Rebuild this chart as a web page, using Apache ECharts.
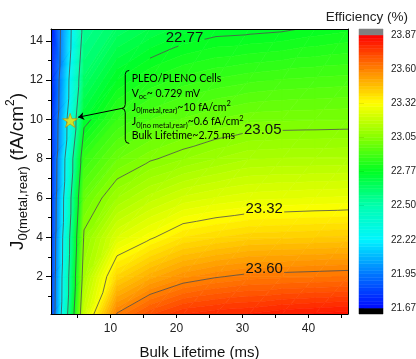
<!DOCTYPE html>
<html>
<head>
<meta charset="utf-8">
<script src="https://cdn.jsdelivr.net/npm/echarts@6/dist/echarts.min.js"></script>
<style>
  html, body { margin: 0; padding: 0; background: #fff; }
  #main { width: 416px; height: 359px; }
</style>
</head>
<body>
<div id="main"></div>
<script>
// grid of the map: bulk lifetime (ms) along x, J0(metal,rear) (fA/cm2) along y
const lifetimes = [1, 6, 11, 16, 21, 26, 31, 36, 41, 46];
const j0Values = [0.1, 2, 4, 6, 8, 10, 12, 14.6];
// efficiency (%), one row for each J0 value
const efficiency = [
    [21.78, 23.20, 23.60, 23.70, 23.76, 23.78, 23.79, 23.81, 23.82, 23.83],
    [21.77, 23.12, 23.41, 23.50, 23.56, 23.59, 23.61, 23.615, 23.62, 23.625],
    [21.76, 23.06, 23.24, 23.31, 23.375, 23.40, 23.42, 23.425, 23.43, 23.436],
    [21.75, 22.98, 23.10, 23.168, 23.217, 23.24, 23.256, 23.262, 23.267, 23.27],
    [21.74, 22.88, 22.986, 23.037, 23.07, 23.10, 23.125, 23.13, 23.131, 23.133],
    [21.73, 22.74, 22.88, 22.934, 22.966, 22.99, 23.008, 23.012, 23.014, 23.016],
    [21.72, 22.64, 22.77, 22.83, 22.864, 22.885, 22.90, 22.91, 22.915, 22.92],
    [21.70, 22.55, 22.64, 22.69, 22.73, 22.75, 22.755, 22.762, 22.778, 22.79]
];

const xLabelValues = [10, 20, 30, 40];
const xTickValues = [5, 10, 15, 20, 25, 30, 35, 40, 45];
const yLabelValues = [2, 4, 6, 8, 10, 12, 14];
const yMinorValues = [1, 3, 5, 7, 9, 11, 13];

// colour scale ticks (also the contour line levels)
const scaleTicks = [21.67, 21.945, 22.22, 22.495, 22.77, 23.045, 23.32, 23.595, 23.87];
const scaleTickLabels = ['21.67', '21.95', '22.22', '22.50', '22.77', '23.05', '23.32', '23.60', '23.87'];

const lineLabels = ['22.77', '23.05', '23.32', '23.60'];
const lineLabelAt = [[21.22, 14.14], [33.08, 9.46], [33.3, 5.44], [33.3, 2.39]];

const starPoint = [3.9, 9.95];
const notePoint = [11.72, 10.56];
const arrowEnd = [5.1, 10.11];
const noteLines = [
    '{a|PLEO/PLENO Cells}',
    '{a|V}{s|oc}{a|~ 0.729 mV}',
    '{a|J}{s|0(metal,rear)}{a|~10 fA/cm}{p|2}',
    '{a|J}{s|0(no metal,rear)}{a|~0.6 fA/cm}{p|2}',
    '{a|Bulk Lifetime~2.75 ms}'
];

// rainbow palette
const paletteStops = [
    [21.67, [0, 10, 255]],
    [21.945, [0, 120, 255]],
    [22.22, [0, 245, 255]],
    [22.495, [0, 255, 175]],
    [22.77, [0, 255, 35]],
    [23.045, [135, 255, 0]],
    [23.32, [255, 255, 0]],
    [23.595, [255, 130, 0]],
    [23.87, [255, 0, 0]]
];

function paletteColor(v) {
    if (v <= paletteStops[0][0]) return 'rgb(0,10,255)';
    for (let k = 1; k < paletteStops.length; k++) {
        const a = paletteStops[k - 1], b = paletteStops[k];
        if (v <= b[0]) {
            const t = (v - a[0]) / (b[0] - a[0]);
            const c = a[1].map((x, n) => Math.round(x + (b[1][n] - x) * t));
            return 'rgb(' + c.join(',') + ')';
        }
    }
    return 'rgb(255,0,0)';
}

// fill levels: 10 per major step
const fillLevels = [];
for (let m = 0; m < scaleTicks.length - 1; m++) {
    for (let s = 0; s < 10; s++) {
        fillLevels.push(scaleTicks[m] + (scaleTicks[m + 1] - scaleTicks[m]) * s / 10);
    }
}
fillLevels.push(scaleTicks[scaleTicks.length - 1]);

const bounds = [-Infinity].concat(fillLevels, [Infinity]);
const bandColors = [];
for (let b = 0; b < bounds.length - 1; b++) {
    if (b === 0) bandColors.push('#000000');
    else if (b === bounds.length - 2) bandColors.push('#808080');
    else bandColors.push(paletteColor((bounds[b] + bounds[b + 1]) / 2));
}

const cells = [];
for (let j = 0; j < j0Values.length - 1; j++) {
    for (let i = 0; i < lifetimes.length - 1; i++) cells.push([i, j]);
}

function corner(api, i, j) {
    const p = api.coord([lifetimes[i], j0Values[j]]);
    return {x: p[0], y: p[1], v: efficiency[j][i]};
}

function cellTriangles(api, i, j) {
    const a = corner(api, i, j), b = corner(api, i + 1, j);
    const c = corner(api, i + 1, j + 1), d = corner(api, i, j + 1);
    return [[a, b, c], [a, c, d]];
}

function clipPoly(poly, level, above) {
    const out = [];
    for (let k = 0; k < poly.length; k++) {
        const cur = poly[k], prev = poly[(k + poly.length - 1) % poly.length];
        const cin = above ? cur.v >= level : cur.v <= level;
        const pin = above ? prev.v >= level : prev.v <= level;
        if (cin !== pin) {
            const t = (level - prev.v) / (cur.v - prev.v);
            out.push({x: prev.x + t * (cur.x - prev.x), y: prev.y + t * (cur.y - prev.y), v: level});
        }
        if (cin) out.push(cur);
    }
    return out;
}

function renderFill(params, api) {
    const cell = cells[params.dataIndex];
    const children = [];
    cellTriangles(api, cell[0], cell[1]).forEach(function (tri) {
        const vs = tri.map(p => p.v);
        const lo = Math.min.apply(null, vs), hi = Math.max.apply(null, vs);
        for (let b = 0; b < bounds.length - 1; b++) {
            if (bounds[b + 1] < lo || bounds[b] > hi) continue;
            let poly = tri;
            if (isFinite(bounds[b])) poly = clipPoly(poly, bounds[b], true);
            if (poly.length >= 3 && isFinite(bounds[b + 1])) poly = clipPoly(poly, bounds[b + 1], false);
            if (poly.length < 3) continue;
            children.push({
                type: 'polygon',
                shape: {points: poly.map(p => [p.x, p.y])},
                style: {fill: bandColors[b], stroke: bandColors[b], lineWidth: 0.6}
            });
        }
    });
    return {type: 'group', children: children};
}

function labelBoxes(api) {
    return lineLabelAt.map(function (pos) {
        const p = api.coord(pos);
        return {x0: p[0] - 20, x1: p[0] + 20, y0: p[1] - 8, y1: p[1] + 8};
    });
}

function cutSegment(p, q, box) {
    let t0 = 0, t1 = 1;
    const dx = q[0] - p[0], dy = q[1] - p[1];
    const pp = [-dx, dx, -dy, dy];
    const qq = [p[0] - box.x0, box.x1 - p[0], p[1] - box.y0, box.y1 - p[1]];
    for (let k = 0; k < 4; k++) {
        if (pp[k] === 0) {
            if (qq[k] < 0) return [[p, q]];
        } else {
            const r = qq[k] / pp[k];
            if (pp[k] < 0) {
                if (r > t1) return [[p, q]];
                if (r > t0) t0 = r;
            } else {
                if (r < t0) return [[p, q]];
                if (r < t1) t1 = r;
            }
        }
    }
    const at = t => [p[0] + dx * t, p[1] + dy * t];
    const res = [];
    if (t0 > 0) res.push([p, at(t0)]);
    if (t1 < 1) res.push([at(t1), q]);
    return res;
}

function renderLines(params, api) {
    const cell = cells[params.dataIndex];
    const boxes = labelBoxes(api);
    const children = [];
    cellTriangles(api, cell[0], cell[1]).forEach(function (tri) {
        scaleTicks.forEach(function (level) {
            const pts = [];
            for (let k = 0; k < 3; k++) {
                const a = tri[k], b = tri[(k + 1) % 3];
                if ((a.v - level) * (b.v - level) < 0) {
                    const t = (level - a.v) / (b.v - a.v);
                    pts.push([a.x + t * (b.x - a.x), a.y + t * (b.y - a.y)]);
                }
            }
            if (pts.length !== 2) return;
            let segs = [[pts[0], pts[1]]];
            boxes.forEach(function (box) {
                let next = [];
                segs.forEach(s => { next = next.concat(cutSegment(s[0], s[1], box)); });
                segs = next;
            });
            segs.forEach(function (s) {
                children.push({
                    type: 'line',
                    shape: {x1: s[0][0], y1: s[0][1], x2: s[1][0], y2: s[1][1]},
                    style: {stroke: '#4d4d4d', lineWidth: 0.8}
                });
            });
        });
    });
    return {type: 'group', children: children};
}

function renderLabel(params, api) {
    const p = api.coord(lineLabelAt[params.dataIndex]);
    return {
        type: 'text', x: p[0], y: p[1],
        style: {
            text: lineLabels[params.dataIndex], fill: '#111',
            fontSize: 15, fontFamily: 'Liberation Sans',
            align: 'center', verticalAlign: 'middle'
        }
    };
}

function renderNote(params, api) {
    const p = api.coord(notePoint);
    const ink = {stroke: '#000', lineWidth: 1, fill: null};
    const children = [
        {type: 'bezierCurve', shape: {x1: 7.5, y1: -38, cpx1: 3.5, cpy1: -38, x2: 3.5, y2: -34}, style: ink},
        {type: 'line', shape: {x1: 3.5, y1: -34, x2: 3.5, y2: -4}, style: ink},
        {type: 'bezierCurve', shape: {x1: 3.5, y1: -4, cpx1: 3.5, cpy1: 0, x2: 0, y2: 0}, style: ink},
        {type: 'bezierCurve', shape: {x1: 0, y1: 0, cpx1: 3.5, cpy1: 0, x2: 3.5, y2: 4}, style: ink},
        {type: 'line', shape: {x1: 3.5, y1: 4, x2: 3.5, y2: 31}, style: ink},
        {type: 'bezierCurve', shape: {x1: 3.5, y1: 31, cpx1: 3.5, cpy1: 35, x2: 7.5, y2: 35}, style: ink}
    ];
    noteLines.forEach(function (line, k) {
        children.push({
            type: 'text', x: 10, y: -29.5 + k * 14.3,
            style: {
                text: line, fill: '#000', align: 'left', verticalAlign: 'middle',
                rich: {
                    a: {fontSize: 10.5, fontFamily: 'Lato', lineHeight: 15, color: '#000'},
                    s: {fontSize: 7.5, fontFamily: 'Lato', verticalAlign: 'bottom', color: '#000'},
                    p: {fontSize: 7.5, fontFamily: 'Lato', verticalAlign: 'top', color: '#000'}
                }
            }
        });
    });
    return {type: 'group', x: p[0], y: p[1], children: children};
}

const scaleLow = scaleTicks[0] - 0.048;
const scaleHigh = scaleTicks[scaleTicks.length - 1] + 0.048;

function renderScale(params, api) {
    const b = params.dataIndex;
    const lo = isFinite(bounds[b]) ? bounds[b] : scaleLow;
    const hi = isFinite(bounds[b + 1]) ? bounds[b + 1] : scaleHigh;
    const p0 = api.coord([0, hi]), p1 = api.coord([1, lo]);
    return {
        type: 'rect',
        shape: {x: p0[0], y: p0[1], width: p1[0] - p0[0], height: p1[1] - p0[1]},
        style: {fill: bandColors[b], stroke: bandColors[b], lineWidth: 0.5}
    };
}

const chart = echarts.init(document.getElementById('main'));
const font = 'Liberation Sans';
const axisInk = {color: '#000', width: 1};

chart.setOption({
    animation: false,
    backgroundColor: '#fff',
    title: {
        text: 'Efficiency (%)', right: 3, top: 5,
        textStyle: {fontSize: 13.5, fontWeight: 'normal', color: '#222', fontFamily: font}
    },
    grid: [
        {left: 51, top: 29, width: 297, height: 285, outerBoundsMode: 'none', containLabel: false},
        {left: 359, top: 29, width: 24, height: 285, outerBoundsMode: 'none', containLabel: false}
    ],
    xAxis: [
        {
            type: 'value', gridIndex: 0, min: 1, max: 46, z: 10,
            axisLine: {lineStyle: axisInk},
            axisTick: {customValues: xTickValues, length: 4, lineStyle: axisInk},
            axisLabel: {customValues: xLabelValues, fontSize: 12, color: '#222', margin: 9, fontFamily: font},
            splitLine: {show: false},
            name: 'Bulk Lifetime (ms)', nameLocation: 'middle', nameGap: 31, nameMoveOverlap: false,
            nameTextStyle: {fontSize: 15, color: '#111', fontFamily: font}
        },
        {
            type: 'value', gridIndex: 0, min: 1, max: 46, position: 'top', z: 10,
            axisLine: {lineStyle: axisInk}, axisTick: {show: false},
            axisLabel: {show: false}, splitLine: {show: false}
        },
        {type: 'value', gridIndex: 1, min: 0, max: 1, show: false}
    ],
    yAxis: [
        {
            type: 'value', gridIndex: 0, min: 0.1, max: 14.6, position: 'left', z: 10,
            axisLine: {lineStyle: axisInk},
            axisTick: {customValues: yLabelValues, length: 5, lineStyle: axisInk},
            axisLabel: {customValues: yLabelValues, fontSize: 12, color: '#222', margin: 8, fontFamily: font},
            splitLine: {show: false},
            name: '{a|J}{s|0(metal,rear)}{a| (fA/cm}{p|2}{a|)}',
            nameLocation: 'middle', nameGap: 21, nameMoveOverlap: false,
            nameTextStyle: {
                color: '#111',
                rich: {
                    a: {fontSize: 19, fontFamily: font, lineHeight: 25, color: '#111'},
                    s: {fontSize: 13, fontFamily: font, verticalAlign: 'bottom', color: '#111'},
                    p: {fontSize: 12, fontFamily: font, verticalAlign: 'top', color: '#111'}
                }
            }
        },
        {
            type: 'value', gridIndex: 0, min: 0.1, max: 14.6, position: 'left', z: 10,
            axisLine: {show: false},
            axisTick: {customValues: yMinorValues, length: 3, lineStyle: axisInk},
            axisLabel: {show: false}, splitLine: {show: false}
        },
        {
            type: 'value', gridIndex: 0, min: 0.1, max: 14.6, position: 'right', z: 10,
            axisLine: {lineStyle: axisInk}, axisTick: {show: false},
            axisLabel: {show: false}, splitLine: {show: false}
        },
        {
            type: 'value', gridIndex: 1, min: scaleLow, max: scaleHigh, position: 'right',
            axisLine: {show: false},
            axisTick: {customValues: scaleTicks, length: 5, lineStyle: axisInk},
            axisLabel: {
                customValues: scaleTicks, fontSize: 10, color: '#222', margin: 8, fontFamily: font,
                formatter: function (v) {
                    const k = scaleTicks.findIndex(t => Math.abs(t - v) < 1e-6);
                    return k >= 0 ? scaleTickLabels[k] : '';
                }
            },
            splitLine: {show: false}
        }
    ],
    series: [
        {
            type: 'custom', xAxisIndex: 0, yAxisIndex: 0, clip: true, silent: true, z: 1,
            renderItem: renderFill, data: cells
        },
        {
            type: 'custom', xAxisIndex: 0, yAxisIndex: 0, clip: true, silent: true, z: 2,
            renderItem: renderLines, data: cells
        },
        {
            type: 'custom', xAxisIndex: 0, yAxisIndex: 0, silent: true, z: 3,
            renderItem: renderLabel, data: lineLabelAt
        },
        {
            type: 'lines', coordinateSystem: 'cartesian2d', xAxisIndex: 0, yAxisIndex: 0, z: 4,
            symbol: ['none', 'arrow'], symbolSize: 6,
            lineStyle: {color: '#000', width: 1, opacity: 1},
            data: [{coords: [notePoint, arrowEnd]}]
        },
        {
            type: 'scatter', xAxisIndex: 0, yAxisIndex: 0, z: 5,
            symbol: 'path://M50,0 L61.8,35.1 L98.9,35.1 L69.1,56.8 L80.9,91.9 L50,70 L19.1,91.9 L30.9,56.8 L1.1,35.1 L38.2,35.1 Z',
            symbolSize: [15, 14],
            itemStyle: {color: '#ffe000', borderColor: '#c88a00', borderWidth: 0.8},
            data: [starPoint]
        },
        {
            type: 'custom', xAxisIndex: 0, yAxisIndex: 0, silent: true, z: 5,
            renderItem: renderNote, data: [notePoint]
        },
        {
            type: 'custom', xAxisIndex: 2, yAxisIndex: 3, silent: true, z: 1,
            renderItem: renderScale, data: bandColors.map((c, b) => [0, b])
        }
    ]
});
</script>
</body>
</html>
